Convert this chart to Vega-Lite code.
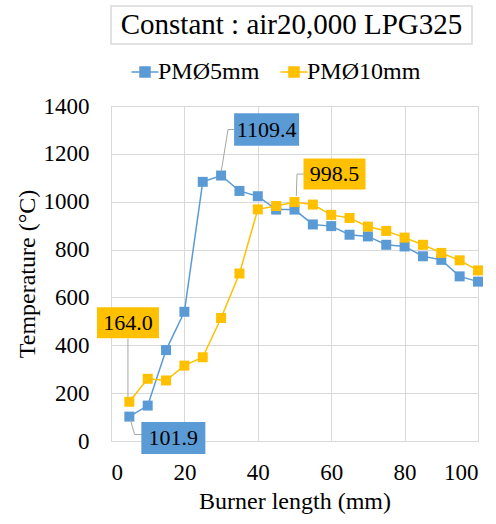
{
  "$schema": "https://vega.github.io/schema/vega-lite/v6.json",
  "padding": {"left": 14, "top": 5, "right": 3, "bottom": 5},
  "background": "white",
  "spacing": 14,
  "align": "none",
  "resolve": {"scale": {"color": "independent"}, "legend": {"color": "independent"}},
  "config": {
    "font": "Liberation Serif",
    "view": {"stroke": null},
    "axis": {
      "labelFont": "Liberation Serif", "labelFontSize": 23, "labelColor": "#000",
      "titleFont": "Liberation Serif", "titleFontSize": 24, "titleFontWeight": "normal", "titleColor": "#000",
      "ticks": false, "tickSize": 0, "domainColor": "#d9d9d9", "gridColor": "#d9d9d9", "grid": true, "format": "d"
    },
    "axisX": {"labelPadding": 20, "titlePadding": 5},
    "axisY": {"labelPadding": 22, "titlePadding": 4}
  },
  "vconcat": [
    {
      "width": 361, "height": 38,
      "view": {"stroke": "#d9d9d9", "strokeWidth": 1.5},
      "data": {"values": [{"t": "Constant : air20,000 LPG325"}]},
      "mark": {"type": "text", "fontSize": 29, "font": "Liberation Serif", "color": "#000"},
      "encoding": {"text": {"field": "t"}}
    },
    {
      "width": 367, "height": 335,
      "view": {"stroke": "#d9d9d9"},
      "data": {"values": [
        {"series": "PMØ5mm", "x": 5, "temp": 101.9},
        {"series": "PMØ5mm", "x": 10, "temp": 148},
        {"series": "PMØ5mm", "x": 15, "temp": 380},
        {"series": "PMØ5mm", "x": 20, "temp": 540},
        {"series": "PMØ5mm", "x": 25, "temp": 1083},
        {"series": "PMØ5mm", "x": 30, "temp": 1109.4},
        {"series": "PMØ5mm", "x": 35, "temp": 1045},
        {"series": "PMØ5mm", "x": 40, "temp": 1023},
        {"series": "PMØ5mm", "x": 45, "temp": 967},
        {"series": "PMØ5mm", "x": 50, "temp": 967},
        {"series": "PMØ5mm", "x": 55, "temp": 905},
        {"series": "PMØ5mm", "x": 60, "temp": 898},
        {"series": "PMØ5mm", "x": 65, "temp": 862},
        {"series": "PMØ5mm", "x": 70, "temp": 855},
        {"series": "PMØ5mm", "x": 75, "temp": 820},
        {"series": "PMØ5mm", "x": 80, "temp": 813},
        {"series": "PMØ5mm", "x": 85, "temp": 772},
        {"series": "PMØ5mm", "x": 90, "temp": 757},
        {"series": "PMØ5mm", "x": 95, "temp": 688},
        {"series": "PMØ5mm", "x": 100, "temp": 666},
        {"series": "PMØ10mm", "x": 5, "temp": 164.0},
        {"series": "PMØ10mm", "x": 10, "temp": 260},
        {"series": "PMØ10mm", "x": 15, "temp": 253},
        {"series": "PMØ10mm", "x": 20, "temp": 315},
        {"series": "PMØ10mm", "x": 25, "temp": 350},
        {"series": "PMØ10mm", "x": 30, "temp": 514},
        {"series": "PMØ10mm", "x": 35, "temp": 700},
        {"series": "PMØ10mm", "x": 40, "temp": 968},
        {"series": "PMØ10mm", "x": 45, "temp": 982},
        {"series": "PMØ10mm", "x": 50, "temp": 998.5},
        {"series": "PMØ10mm", "x": 55, "temp": 988},
        {"series": "PMØ10mm", "x": 60, "temp": 945},
        {"series": "PMØ10mm", "x": 65, "temp": 932},
        {"series": "PMØ10mm", "x": 70, "temp": 896},
        {"series": "PMØ10mm", "x": 75, "temp": 878},
        {"series": "PMØ10mm", "x": 80, "temp": 850},
        {"series": "PMØ10mm", "x": 85, "temp": 820},
        {"series": "PMØ10mm", "x": 90, "temp": 786},
        {"series": "PMØ10mm", "x": 95, "temp": 755},
        {"series": "PMØ10mm", "x": 100, "temp": 713}
      ]},
      "encoding": {
        "x": {"field": "x", "type": "quantitative", "scale": {"domain": [0, 100], "nice": false},
              "axis": {"values": [0, 20, 40, 60, 80, 100], "title": "Burner length (mm)"}},
        "y": {"field": "temp", "type": "quantitative", "scale": {"domain": [0, 1400], "nice": false},
              "axis": {"values": [0, 200, 400, 600, 800, 1000, 1200, 1400], "title": "Temperature (°C)"}}
      },
      "layer": [
        {
          "mark": {"type": "line", "strokeWidth": 1.5,
                   "point": {"shape": "square", "size": 100, "filled": true, "opacity": 1}},
          "encoding": {
            "color": {"field": "series", "type": "nominal",
              "scale": {"domain": ["PMØ5mm", "PMØ10mm"], "range": ["#5B9BD5", "#FFC000"]},
              "legend": {
                "orient": "none", "legendX": 22, "legendY": -46, "direction": "horizontal", "title": null,
                "labelFont": "Liberation Serif", "labelFontSize": 24, "labelColor": "#000",
                "symbolType": "M-1.35,0H1.35M-0.5,-0.5H0.5V0.5H-0.5Z", "symbolSize": 400,
                "symbolStrokeWidth": 1.5, "labelOffset": 1, "columnPadding": 17, "padding": 0,
                "encode": {"symbols": {"update": {"fill": {"signal": "datum.value == 'PMØ5mm' ? '#5B9BD5' : '#FFC000'"}, "fillOpacity": {"value": 1}, "opacity": {"value": 1}}}}
              }}
          }
        },
        {
          "transform": [{"filter": "datum.series == 'PMØ5mm' && datum.x == 30"}],
          "layer": [
            {"mark": {"type": "rule", "color": "#a6a6a6", "strokeWidth": 1, "xOffset": 0.2, "yOffset": -4.4, "x2Offset": 6.9, "y2Offset": -46},
             "encoding": {"x2": {"field": "x"}, "y2": {"field": "temp"}}},
            {"mark": {"type": "rule", "color": "#a6a6a6", "strokeWidth": 1, "xOffset": 6.9, "yOffset": -46, "x2Offset": 13, "y2Offset": -46},
             "encoding": {"x2": {"field": "x"}, "y2": {"field": "temp"}}},
            {"mark": {"type": "point", "shape": "M-2,-1H2V1H-2Z", "size": 1056, "filled": true, "opacity": 1, "color": "#5B9BD5", "strokeWidth": 0, "xOffset": 45.5, "yOffset": -46}},
            {"mark": {"type": "text", "fontSize": 22, "font": "Liberation Serif", "color": "#000", "dx": 45.5, "dy": -46},
             "encoding": {"text": {"field": "temp", "type": "quantitative", "format": ".1f"}}}
          ]
        },
        {
          "transform": [{"filter": "datum.series == 'PMØ10mm' && datum.x == 50"}],
          "layer": [
            {"mark": {"type": "rule", "color": "#a6a6a6", "strokeWidth": 1, "xOffset": 1.8, "yOffset": -6, "x2Offset": 2.5, "y2Offset": -28},
             "encoding": {"x2": {"field": "x"}, "y2": {"field": "temp"}}},
            {"mark": {"type": "rule", "color": "#a6a6a6", "strokeWidth": 1, "xOffset": 2.5, "yOffset": -28, "x2Offset": 9.5, "y2Offset": -28},
             "encoding": {"x2": {"field": "x"}, "y2": {"field": "temp"}}},
            {"mark": {"type": "point", "shape": "M-2,-1H2V1H-2Z", "size": 961, "filled": true, "opacity": 1, "color": "#FFC000", "strokeWidth": 0, "xOffset": 40, "yOffset": -28}},
            {"mark": {"type": "text", "fontSize": 22, "font": "Liberation Serif", "color": "#000", "dx": 40, "dy": -28},
             "encoding": {"text": {"field": "temp", "type": "quantitative", "format": ".1f"}}}
          ]
        },
        {
          "transform": [{"filter": "datum.series == 'PMØ10mm' && datum.x == 5"}],
          "layer": [
            {"mark": {"type": "rule", "color": "#a6a6a6", "strokeWidth": 1, "xOffset": -1.4, "yOffset": -5, "x2Offset": -1.4, "y2Offset": -63},
             "encoding": {"x2": {"field": "x"}, "y2": {"field": "temp"}}},
            {"mark": {"type": "point", "shape": "M-2,-1H2V1H-2Z", "size": 961, "filled": true, "opacity": 1, "color": "#FFC000", "strokeWidth": 0, "xOffset": -1.4, "yOffset": -79}},
            {"mark": {"type": "text", "fontSize": 22, "font": "Liberation Serif", "color": "#000", "dx": -1.4, "dy": -79},
             "encoding": {"text": {"field": "temp", "type": "quantitative", "format": ".1f"}}}
          ]
        },
        {
          "transform": [{"filter": "datum.series == 'PMØ5mm' && datum.x == 5"}],
          "layer": [
            {"mark": {"type": "rule", "color": "#a6a6a6", "strokeWidth": 1, "xOffset": 0.9, "yOffset": 2.9, "x2Offset": 5.3, "y2Offset": 17.9},
             "encoding": {"x2": {"field": "x"}, "y2": {"field": "temp"}}},
            {"mark": {"type": "rule", "color": "#a6a6a6", "strokeWidth": 1, "xOffset": 5.3, "yOffset": 17.9, "x2Offset": 13, "y2Offset": 17.9},
             "encoding": {"x2": {"field": "x"}, "y2": {"field": "temp"}}},
            {"mark": {"type": "point", "shape": "M-2,-1H2V1H-2Z", "size": 1024, "filled": true, "opacity": 1, "color": "#5B9BD5", "strokeWidth": 0, "xOffset": 44, "yOffset": 21.5}},
            {"mark": {"type": "text", "fontSize": 22, "font": "Liberation Serif", "color": "#000", "dx": 44, "dy": 21.5},
             "encoding": {"text": {"field": "temp", "type": "quantitative", "format": ".1f"}}}
          ]
        }
      ]
    }
  ]
}
